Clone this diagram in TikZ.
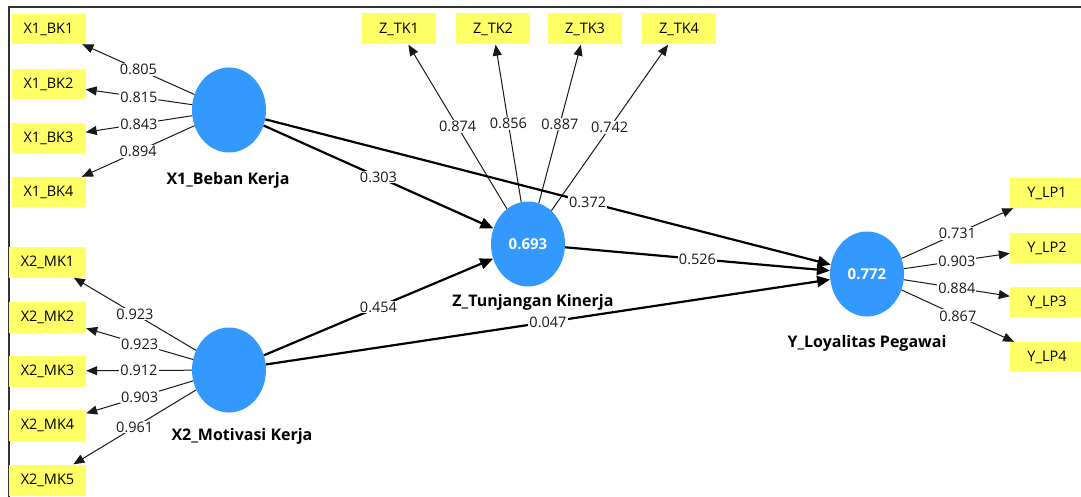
\documentclass[tikz,border=0pt]{standalone}
\usepackage{fontspec}
\setmainfont{Open Sans}
\usetikzlibrary{shapes.geometric,arrows.meta}
\definecolor{lvblue}{RGB}{51,153,255}
\definecolor{mvyellow}{RGB}{255,255,102}
\definecolor{inkc}{RGB}{25,25,25}
\begin{document}
\begin{tikzpicture}[x=1pt,y=-1pt,
  lv/.style={ellipse, fill=lvblue, minimum width=74pt, minimum height=85pt, inner sep=0pt, text=white, font=\fontsize{15}{18}\selectfont\bfseries},
  mv/.style={rectangle, fill=mvyellow, minimum width=74pt, minimum height=30pt, inner sep=0pt, font=\fontsize{14.5}{16}\selectfont},
  mvw/.style={mv, minimum width=77pt, minimum height=31pt},
  lvname/.style={font=\fontsize{16}{19}\selectfont\bfseries, inner sep=1pt},
  ld/.style={-{Triangle[length=11pt,width=9pt]}, line width=1pt, draw=inkc},
  pc/.style={-{Triangle[length=13pt,width=11pt]}, line width=2.2pt, draw=black},
  coef/.style={fill=white, inner sep=1pt, font=\fontsize{14.5}{16}\selectfont, text=inkc, pos=0.5}
]
\useasboundingbox (0,0) rectangle (1081,497);
\fill[white] (0,0) rectangle (1081,497);
\draw[line width=2pt, black!80] (9,497) -- (9,7) -- (1081,7);

% latent variables
\node[lv] (x1) at (229,110) {};
\node[lv] (x2) at (229,370) {};
\node[lv] (z) at (528,244) {0.693};
\node[lv] (y) at (867,274) {0.772};

\node[lvname] (x1n) at (228,180) {X1\_Beban Kerja};
\node[lvname] (x2n) at (242,436) {X2\_Motivasi Kerja};
\node[lvname] (zn) at (533,302) {Z\_Tunjangan Kinerja};
\node[lvname] (yn) at (867,343) {Y\_Loyalitas Pegawai};

% indicators
\node[mv] (bk1) at (48.5,29) {X1\_BK1};
\node[mv] (bk2) at (48.5,84) {X1\_BK2};
\node[mv] (bk3) at (48.5,138) {X1\_BK3};
\node[mv] (bk4) at (48.5,192) {X1\_BK4};

\node[mvw] (mk1) at (47.5,262) {X2\_MK1};
\node[mvw] (mk2) at (47.5,317) {X2\_MK2};
\node[mvw] (mk3) at (47.5,371) {X2\_MK3};
\node[mvw] (mk4) at (47.5,425) {X2\_MK4};
\node[mvw] (mk5) at (47.5,480) {X2\_MK5};

\node[mv, minimum height=31pt] (tk1) at (399,29) {Z\_TK1};
\node[mv, minimum height=31pt] (tk2) at (493,29) {Z\_TK2};
\node[mv, minimum height=31pt] (tk3) at (585,29) {Z\_TK3};
\node[mv, minimum height=31pt] (tk4) at (679,29) {Z\_TK4};

\node[mv] (lp1) at (1047,193) {Y\_LP1};
\node[mv] (lp2) at (1047,248) {Y\_LP2};
\node[mv] (lp3) at (1047,302) {Y\_LP3};
\node[mv] (lp4) at (1047,357) {Y\_LP4};

% outer loadings
\draw[ld] (x1) -- node[coef] {0.805} (bk1);
\draw[ld] (x1) -- node[coef] {0.815} (bk2);
\draw[ld] (x1) -- node[coef] {0.843} (bk3);
\draw[ld] (x1) -- node[coef] {0.894} (bk4);

\draw[ld] (x2) -- node[coef] {0.923} (mk1);
\draw[ld] (x2) -- node[coef] {0.923} (mk2);
\draw[ld] (x2) -- node[coef] {0.912} (mk3);
\draw[ld] (x2) -- node[coef] {0.903} (mk4);
\draw[ld] (x2) -- node[coef] {0.961} (mk5);

\draw[ld] (z) -- node[coef] {0.874} (tk1);
\draw[ld] (z) -- node[coef] {0.856} (tk2);
\draw[ld] (z) -- node[coef] {0.887} (tk3);
\draw[ld] (z) -- node[coef] {0.742} (tk4);

\draw[ld] (y) -- node[coef] {0.731} (lp1);
\draw[ld] (y) -- node[coef] {0.903} (lp2);
\draw[ld] (y) -- node[coef] {0.884} (lp3);
\draw[ld] (y) -- node[coef] {0.867} (lp4);

% path coefficients
\draw[pc] (x1) -- node[coef] {0.303} (z);
\draw[pc] (x1) -- node[coef, pos=0.57] {0.372} (y);
\draw[pc] (z) -- node[coef] {0.526} (y);
\draw[pc] (x2) -- node[coef] {0.454} (z);
\draw[pc] (x2) -- node[coef] {0.047} (y);
\end{tikzpicture}
\end{document}
